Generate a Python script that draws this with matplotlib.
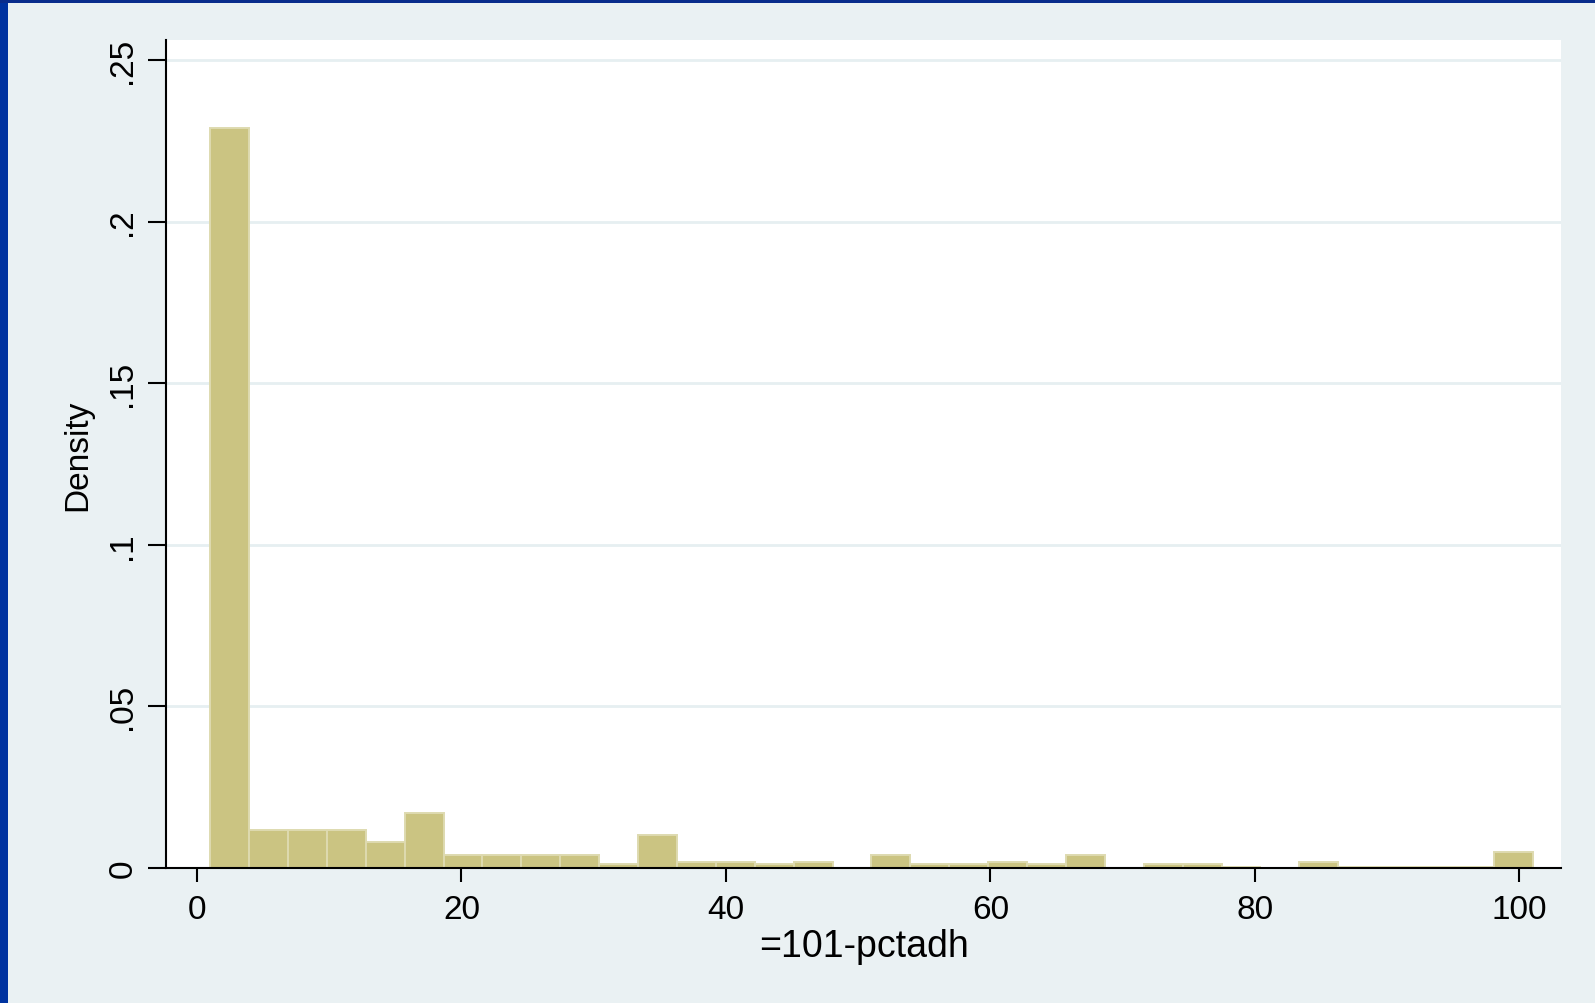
import matplotlib.pyplot as plt
from matplotlib.patches import Rectangle
import numpy as np

plt.rcParams['font.family'] = ['Liberation Sans', 'DejaVu Sans']

# histogram of 101-pctadh: 34 bins from 1 to 101, density per bin
bin_start = 1
bin_end = 101
n_bins = 34
density = [0.2291, 0.0117, 0.0117, 0.0117, 0.0080, 0.0170, 0.0040, 0.0040,
           0.0040, 0.0040, 0.0012, 0.0102, 0.0018, 0.0018, 0.0012, 0.0018,
           0.0, 0.0040, 0.0012, 0.0012, 0.0018, 0.0012, 0.0040, 0.0,
           0.0012, 0.0012, 0.0004, 0.0, 0.0018, 0.0004, 0.0004, 0.0004,
           0.0004, 0.0048]

x_ticks = [0, 20, 40, 60, 80, 100]
y_ticks = [0, 0.05, 0.1, 0.15, 0.2, 0.25]
y_ticklabels = ['0', '.05', '.1', '.15', '.2', '.25']

bg = '#EAF1F3'
bar_fill = '#CBC482'
bar_edge = '#DEDAB0'

fig = plt.figure(figsize=(15.95, 10.04), dpi=100, facecolor=bg)
# blue frame on the left and top
fig.patches.append(Rectangle((0, 0), 8 / 1595, 1, transform=fig.transFigure,
                             facecolor='#0033A0', edgecolor='none', zorder=0))
fig.patches.append(Rectangle((0, 1 - 3.5 / 1004), 1, 3.5 / 1004, transform=fig.transFigure,
                             facecolor='#0A2D8C', edgecolor='none', zorder=0))

ax = fig.add_axes([0.1041, 0.1345, 0.8746, 0.8247])
ax.set_facecolor('white')

edges = np.linspace(bin_start, bin_end, n_bins + 1)
width = edges[1] - edges[0]
ax.bar(edges[:-1], density, width=width, align='edge', color=bar_fill,
       edgecolor=bar_edge, linewidth=1.4, zorder=2)

ax.set_xlim(-2.34, 103.14)
ax.set_ylim(0, 0.2562)

ax.set_axisbelow(True)
ax.yaxis.grid(True, color='#E6EFF1', linewidth=2.0)
ax.xaxis.grid(False)

for side in ['top', 'right']:
    ax.spines[side].set_visible(False)
for side in ['left', 'bottom']:
    ax.spines[side].set_linewidth(1.5)
    ax.spines[side].set_color('black')
    ax.spines[side].set_zorder(3)

ax.set_xticks(x_ticks)
ax.set_xticklabels([str(t) for t in x_ticks])
ax.set_yticks(y_ticks)
ax.set_yticklabels(y_ticklabels, rotation=90, va='center')
ax.tick_params(axis='x', length=10, width=1.5, pad=9, labelsize=24)
ax.tick_params(axis='y', length=13, width=1.5, pad=7, labelsize=24)

ax.set_ylabel('Density', fontsize=24, labelpad=10)
ax.set_xlabel('=101-pctadh', fontsize=27, labelpad=2)

fig.savefig('out.png', dpi=100, facecolor=bg)
